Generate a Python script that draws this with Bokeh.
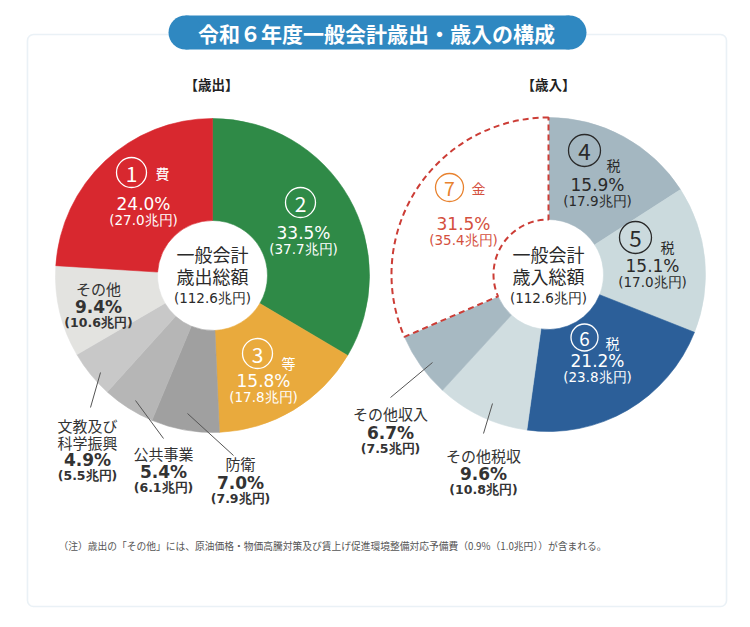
import math
from bokeh.plotting import figure
from bokeh.models import Range1d, BoxAnnotation, ColumnDataSource
from bokeh.embed import file_html
from bokeh.resources import INLINE

# ---------------- data ----------------
title_text = "令和６年度一般会計歳出・歳入の構成"
exp_header = "【歳出】"
rev_header = "【歳入】"
total_amt = 112.6

exp_cats = ["②", "③等", "防衛", "公共事業", "文教及び科学振興", "その他", "①費"]
exp_pct = [33.5, 15.8, 7.0, 5.4, 4.9, 9.4, 24.0]
exp_amt = [37.7, 17.8, 7.9, 6.1, 5.5, 10.6, 27.0]
exp_colors = ["#2f8a47", "#e9aa3d", "#a0a0a0", "#b6b6b6", "#c8c8c8", "#e3e3e0", "#d8282f"]

rev_cats = ["④税", "⑤税", "⑥税", "その他税収", "その他収入", "⑦金"]
rev_pct = [15.9, 15.1, 21.2, 9.6, 6.7, 31.5]
rev_amt = [17.9, 17.0, 23.8, 10.8, 7.5, 35.4]
rev_colors = ["#a4b7c1", "#cbdadd", "#2c5f99", "#d0dde0", "#a7b9c2", "#ffffff"]

footnote = "（注）歳出の「その他」には、原油価格・物価高騰対策及び賃上げ促進環境整備対応予備費（0.9%（1.0兆円））が含まれる。"

# ---------------- layout ----------------
W, H = 734, 611
JP = "Noto Sans CJK JP"
NUM = "DejaVu Sans"
DARK = "#333333"


def fy(y):
    return H - y


p = figure(width=W, height=H, x_range=Range1d(0, W), y_range=Range1d(0, H),
           output_backend="svg", toolbar_location=None, x_axis_type=None, y_axis_type=None,
           min_border=0)
p.outline_line_color = None
p.grid.visible = False
p.background_fill_color = "white"
p.border_fill_color = "white"

# outer frame
box = BoxAnnotation(left=27, right=726, top=fy(34), bottom=fy(606), fill_color=None,
                    line_color="#b9cfe2", line_width=1.6, border_radius=6, level="underlay")
p.add_layout(box)

# title pill
p.quad(left=[185], right=[569], top=[fy(15)], bottom=[fy(49)], fill_color="#2f88c1", line_color=None)
p.circle(x=[185, 569], y=[fy(32), fy(32)], radius=17, fill_color="#2f88c1", line_color=None)


def angles(pcts):
    tot = sum(pcts)
    starts, ends = [], []
    cum = 0.0
    for v in pcts:
        a0 = math.pi / 2 - 2 * math.pi * cum / tot
        cum += v
        a1 = math.pi / 2 - 2 * math.pi * cum / tot
        starts.append(a1)
        ends.append(a0)
    return starts, ends


R_OUT, R_IN = 157, 55
EX, EY = 212, fy(275)
RX, RY = 548, fy(274)

s, e = angles(exp_pct)
src_e = ColumnDataSource(dict(start=s, end=e, color=exp_colors, cat=exp_cats))
p.annular_wedge(x=EX, y=EY, inner_radius=R_IN, outer_radius=R_OUT, start_angle="start",
                end_angle="end", direction="anticlock", fill_color="color", line_color="color",
                line_width=0.6, source=src_e)

s, e = angles(rev_pct)
src_r = ColumnDataSource(dict(start=s, end=e, color=rev_colors, cat=rev_cats))
p.annular_wedge(x=RX, y=RY, inner_radius=R_IN, outer_radius=R_OUT, start_angle="start",
                end_angle="end", direction="anticlock", fill_color="color", line_color="color",
                line_width=0.6, source=src_r)
# dashed outline for the last (⑦) slice
p.annular_wedge(x=RX, y=RY, inner_radius=R_IN, outer_radius=R_OUT, start_angle=s[-1],
                end_angle=e[-1], direction="anticlock", fill_color=None, line_color="#cc3d36",
                line_width=2, line_dash="6 4")

# ---------------- texts ----------------
T = dict(x=[], y=[], text=[], size=[], color=[], style=[], align=[], font=[])


def txt(x, y, t, size, color, style="normal", align="center", font=JP):
    T["x"].append(x)
    T["y"].append(fy(y))
    T["text"].append(t)
    T["size"].append(f"{size}px")
    T["color"].append(color)
    T["style"].append(style)
    T["align"].append(align)
    T["font"].append(font)


C = dict(x=[], y=[], size=[], color=[])


def circnum(x, y, n, d, color):
    C["x"].append(x)
    C["y"].append(fy(y))
    C["size"].append(d)
    C["color"].append(color)
    txt(x, y + 1, n, d * 0.7, color)


def pct_s(v):
    return f"{v:.1f}%"


def amt_s(v):
    return f"({v:.1f}兆円)"


PS, AS = 17, 13.5           # inside percent / amount font sizes
OPS, OAS, ONS = 17, 12.5, 15  # outside percent / amount / name


def inner(x, y, i_pct, i_amt, color):
    txt(x, y, pct_s(i_pct), PS, color, font=NUM)
    txt(x, y + 16, amt_s(i_amt), AS, color, font=NUM)


def outer(x, y, v_pct, v_amt):
    txt(x, y, pct_s(v_pct), OPS, DARK, "bold", font=NUM)
    txt(x, y + 16, amt_s(v_amt), OAS, DARK, "bold", font=NUM)


txt(211, 83, exp_header, 13.5, "#222222", "bold")
txt(548, 83, rev_header, 13.5, "#222222", "bold")

# expenditure inside labels
W_ = "#ffffff"
circnum(131, 172, "1", 30, W_); txt(162, 172, exp_cats[6][1:], 14, W_)
inner(143, 203, exp_pct[6], exp_amt[6], W_)
circnum(300, 202, "2", 30, W_)
inner(303, 232, exp_pct[0], exp_amt[0], W_)
circnum(257, 353, "3", 30, W_); txt(288, 362, exp_cats[1][1:], 14, W_)
inner(263, 380, exp_pct[1], exp_amt[1], W_)

# expenditure outer labels
txt(98, 288, exp_cats[5], ONS, DARK); outer(98, 306, exp_pct[5], exp_amt[5])
txt(240, 463, exp_cats[2], ONS, DARK); outer(240, 482, exp_pct[2], exp_amt[2])
txt(163, 453, exp_cats[3], ONS, DARK); outer(163, 471, exp_pct[3], exp_amt[3])
txt(87, 425, exp_cats[4][:4], ONS, DARK); txt(87, 442, exp_cats[4][4:], ONS, DARK)
outer(87, 459, exp_pct[4], exp_amt[4])

# center texts
for cx, lbl in [(212, "歳出総額"), (548, "歳入総額")]:
    txt(cx, 253, "一般会計", 18, "#2a2a2a")
    txt(cx, 275, lbl, 18, "#2a2a2a")
    txt(cx, 297, amt_s(total_amt), 13.5, "#2a2a2a", font=NUM)

# revenue inside labels
D_ = "#2a2a2a"
circnum(584, 150, "4", 32, D_); txt(613, 164, rev_cats[0][1:], 14, D_)
inner(597, 184, rev_pct[0], rev_amt[0], D_)
circnum(635, 237, "5", 32, D_); txt(667, 246, rev_cats[1][1:], 14, D_)
inner(652, 265, rev_pct[1], rev_amt[1], D_)
circnum(584, 337, "6", 27, W_); txt(612, 342, rev_cats[2][1:], 14, W_)
inner(597, 360, rev_pct[2], rev_amt[2], W_)
R_ = "#d4503e"
circnum(449, 187, "7", 28, "#e8822f"); txt(478, 187, rev_cats[5][1:], 14, R_)
inner(463, 223, rev_pct[5], rev_amt[5], R_)

# revenue outer labels
txt(483, 455, rev_cats[3], ONS, DARK); outer(483, 473, rev_pct[3], rev_amt[3])
txt(390, 413, rev_cats[4], ONS, DARK); outer(390, 432, rev_pct[4], rev_amt[4])

# title + footnote
txt(376, 32, title_text, 21, "#ffffff", "bold")
txt(58, 545, footnote, 9.75, "#555555", "normal", "left")

# leader lines
L = dict(x0=[233, 163, 90, 483, 390], y0=[455, 438, 407, 433, 397],
         x1=[187, 135, 100, 492, 432], y1=[413, 400, 372, 403, 362])
p.segment(x0=L["x0"], y0=[fy(v) for v in L["y0"]], x1=L["x1"], y1=[fy(v) for v in L["y1"]],
          line_color="#555555", line_width=1)

p.scatter(x="x", y="y", size="size", source=ColumnDataSource(C), marker="circle",
          fill_color=None, line_color="color", line_width=1.3)
p.text(x="x", y="y", text="text", text_font_size="size", text_color="color",
       text_font_style="style", text_align="align", text_baseline="middle",
       text_font="font", source=ColumnDataSource(T))

open("out.html", "w").write(file_html(p, INLINE))
